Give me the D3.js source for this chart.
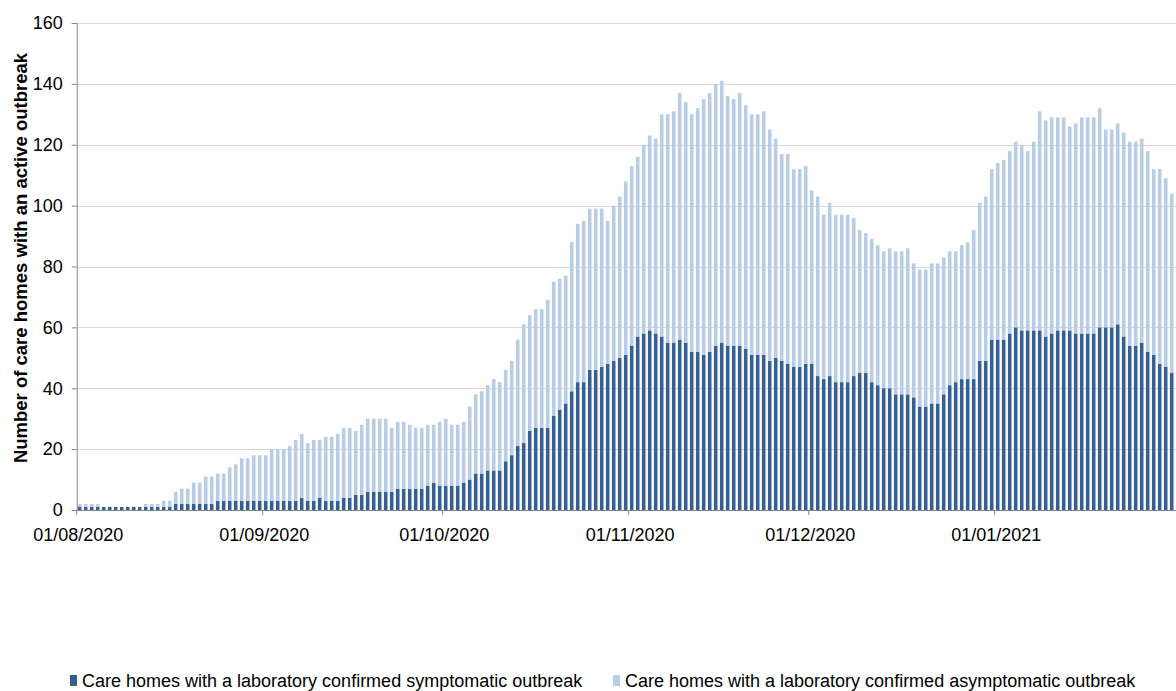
<!DOCTYPE html>
<html>
<head>
<meta charset="utf-8">
<script src="https://cdn.jsdelivr.net/npm/d3@7"></script>
<style>
  body { margin: 0; background: #ffffff; }
  svg { display: block; }
  text { font-family: "Liberation Sans", Arial, sans-serif; fill: #000; }
</style>
</head>
<body>
<svg id="chart" width="1176" height="691"></svg>
<script>
// ---------- data ----------
const firstDay = "01/08/2020";
const lastDay = "30/01/2021";

const symptomatic = [
  1,1,1,1,1,1,1,1,1,1, 1,1,1,1,1,1,2,2,2,2, 2,2,2,3,3,3,3,3,3,3,
  3,3,3,3,3,3,3,4,3,3, 4,3,3,3,4,4,5,5,6,6, 6,6,6,7,7,7,7,7,8,9,
  8,8,8,8,9,10,12,12,13,13, 13,16,18,21,22,26,27,27,27,31, 33,35,39,42,42,46,46,47,48,49,
  50,51,54,57,58,59,58,57,55,55, 56,55,52,52,51,52,54,55,54,54, 54,53,51,51,51,49,50,49,48,47,
  47,48,48,44,43,44,42,42,42,44, 45,45,42,41,40,40,38,38,38,37, 34,34,35,35,38,41,42,43,43,43,
  49,49,56,56,56,58,60,59,59,59, 59,57,58,59,59,59,58,58,58,58, 60,60,60,61,57,54,54,55,52,51,
  48,47,45
];

const asymptomatic = [
  1,1,1,1,0,0,0,0,0,0, 0,1,1,1,2,2,4,5,5,7, 7,9,9,9,9,11,12,14,14,15,
  15,15,17,17,17,18,20,21,19,20, 19,21,21,22,23,23,21,23,24,24, 24,24,21,22,22,21,20,20,20,19,
  21,22,20,20,20,24,26,27,28,30, 29,30,31,35,39,38,39,39,42,44, 43,42,49,52,53,53,53,52,47,51,
  53,57,59,59,62,64,64,73,75,76, 81,79,78,80,84,85,86,86,82,81, 83,80,79,79,80,76,72,68,69,65,
  65,65,57,59,54,57,55,55,55,52, 47,46,47,46,45,46,47,47,48,44, 45,45,46,46,45,44,43,44,45,49,
  52,54,56,58,59,60,61,61,59,62, 72,71,71,70,70,67,69,71,71,71, 72,65,65,66,67,67,67,67,66,61,
  64,62,59
];

const seriesNames = [
  "Care homes with a laboratory confirmed symptomatic outbreak",
  "Care homes with a laboratory confirmed asymptomatic outbreak"
];
const seriesColors = ["#376092", "#B9CDE5"];

const yTickValues = [0, 20, 40, 60, 80, 100, 120, 140, 160];
const xTickLabels = ["01/08/2020", "01/09/2020", "01/10/2020", "01/11/2020", "01/12/2020", "01/01/2021"];
const yTitle = "Number of care homes with an active outbreak";

// ---------- build ----------
(function () {
const parse = d3.timeParse("%d/%m/%Y");
const key = d3.timeFormat("%Y-%m-%d");
const days = d3.timeDay.range(parse(firstDay), d3.timeDay.offset(parse(lastDay), 1));
const rows = days.map((d, i) => ({
  day: key(d),
  sym: symptomatic[i],
  asym: asymptomatic[i]
}));

const svg = d3.select("#chart");
const mLeft = 76.7, mRight = 1176, mTop = 23, mBottom = 510;
const plotRight = mLeft + 6 * days.length;

const x = d3.scaleBand()
  .domain(rows.map(r => r.day))
  .range([mLeft, plotRight])
  .paddingInner(0.4)
  .paddingOuter(0.2);

const y = d3.scaleLinear().domain([0, 160]).range([mBottom, mTop]);

// gridlines
svg.append("g")
  .selectAll("line")
  .data(yTickValues.filter(v => v > 0))
  .join("line")
  .attr("x1", mLeft).attr("x2", mRight)
  .attr("y1", d => Math.round(y(d)) + 0.5).attr("y2", d => Math.round(y(d)) + 0.5)
  .attr("stroke", "#D9D9D9").attr("stroke-width", 1);

// stacked bars
const stack = d3.stack().keys(["sym", "asym"]);
const layers = stack(rows);
svg.append("g")
  .selectAll("g")
  .data(layers)
  .join("g")
  .attr("fill", (d, i) => seriesColors[i])
  .selectAll("rect")
  .data(d => d)
  .join("rect")
  .attr("x", d => x(d.data.day))
  .attr("width", x.bandwidth())
  .attr("y", d => y(d[1]))
  .attr("height", d => Math.max(0, y(d[0]) - y(d[1])));

// y axis
const yAxis = d3.axisLeft(y).tickValues(yTickValues).tickSize(5).tickPadding(9);
const gy = svg.append("g").attr("transform", `translate(${mLeft},0)`).call(yAxis);
gy.select(".domain").attr("stroke", "#868686");
gy.selectAll(".tick line").attr("stroke", "#868686");
gy.selectAll(".tick text")
  .attr("font-size", "18px")
  .attr("font-family", "'Liberation Sans', Arial, sans-serif")
  .attr("fill", "#000");

// x axis line
svg.append("line")
  .attr("x1", mLeft).attr("x2", mRight)
  .attr("y1", mBottom + 0.5).attr("y2", mBottom + 0.5)
  .attr("stroke", "#868686");

// x ticks at month boundaries
const gap = (x.step() - x.bandwidth()) / 2;
const xTicks = xTickLabels.map(l => ({ label: l, pos: x(key(parse(l))) - gap }));
const gx = svg.append("g");
gx.selectAll("line")
  .data(xTicks)
  .join("line")
  .attr("x1", d => d.pos).attr("x2", d => d.pos)
  .attr("y1", mBottom).attr("y2", mBottom + 5)
  .attr("stroke", "#868686");
gx.selectAll("text")
  .data(xTicks)
  .join("text")
  .attr("x", d => d.pos + 1.5)
  .attr("y", 541)
  .attr("text-anchor", "middle")
  .attr("font-size", "18px")
  .text(d => d.label);

// y title
svg.append("text")
  .attr("transform", "translate(27,258) rotate(-90)")
  .attr("text-anchor", "middle")
  .attr("font-size", "18.5px")
  .attr("font-weight", "bold")
  .text(yTitle);

// legend
const legendItems = [
  { name: seriesNames[0], color: seriesColors[0], x: 70 },
  { name: seriesNames[1], color: seriesColors[1], x: 613 }
];
const lg = svg.append("g");
const li = lg.selectAll("g").data(legendItems).join("g")
  .attr("transform", d => `translate(${d.x},0)`);
li.append("rect").attr("x", 0).attr("y", 675).attr("width", 7).attr("height", 11)
  .attr("fill", d => d.color);
li.append("text").attr("x", 12).attr("y", 686.5).attr("font-size", "18px").text(d => d.name);
})();
</script>
</body>
</html>
